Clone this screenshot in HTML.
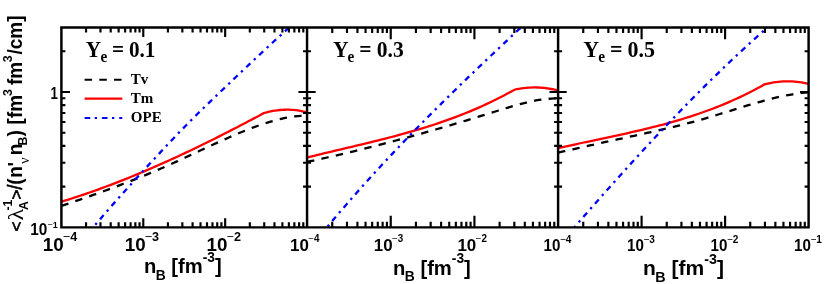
<!DOCTYPE html>
<html><head><meta charset="utf-8"><title>plot</title>
<style>html,body{margin:0;padding:0;background:#fff;}svg{display:block;will-change:transform;font-family:"Liberation Sans",sans-serif;}</style>
</head><body>
<svg width="830" height="284" viewBox="0 0 830 284">
<rect width="830" height="284" fill="#fff"/>
<g fill="none" stroke-width="2.3" stroke-linejoin="miter">
<path d="M61.40 205.98 L64.51 204.92 L67.62 203.85 L70.73 202.78 L73.84 201.71 L76.95 200.64 L80.06 199.56 L83.17 198.47 L86.28 197.38 L89.39 196.29 L92.49 195.19 L95.60 194.08 L98.71 192.97 L101.82 191.84 L104.93 190.71 L108.04 189.58 L111.15 188.43 L114.26 187.28 L117.37 186.11 L120.48 184.94 L123.59 183.75 L126.70 182.55 L129.81 181.35 L132.92 180.13 L136.03 178.90 L139.14 177.65 L142.25 176.40 L145.36 175.12 L148.47 173.84 L151.58 172.54 L154.68 171.23 L157.79 169.90 L160.90 168.55 L164.01 167.19 L167.12 165.81 L170.23 164.42 L173.34 163.02 L176.45 161.61 L179.56 160.18 L182.67 158.75 L185.78 157.31 L188.89 155.87 L192.00 154.42 L195.11 152.97 L198.22 151.52 L201.33 150.08 L204.44 148.63 L207.55 147.19 L210.66 145.75 L213.77 144.32 L216.87 142.89 L219.98 141.48 L223.09 140.07 L226.20 138.68 L229.31 137.30 L232.42 135.94 L235.53 134.60 L238.64 133.28 L241.75 131.98 L244.86 130.71 L247.97 129.47 L251.08 128.27 L254.19 127.10 L257.30 125.96 L260.41 124.87 L263.52 123.83 L266.63 122.83 L269.74 121.88 L272.85 120.99 L275.96 120.15 L279.06 119.37 L282.17 118.65 L285.28 117.99 L288.39 117.41 L291.50 116.89 L294.61 116.45 L297.72 116.08 L300.83 115.79 L303.94 115.59 L307.05 115.47" stroke="#000" stroke-dasharray="7.4 7.3"/>
<path d="M61.40 201.71 L63.96 200.92 L66.52 200.13 L69.08 199.33 L71.65 198.52 L74.21 197.69 L76.77 196.86 L79.33 196.01 L81.89 195.16 L84.45 194.29 L87.01 193.41 L89.58 192.53 L92.14 191.63 L94.70 190.72 L97.26 189.81 L99.82 188.88 L102.38 187.94 L104.94 187.00 L107.51 186.04 L110.07 185.07 L112.63 184.10 L115.19 183.11 L117.75 182.12 L120.31 181.12 L122.87 180.11 L125.43 179.09 L128.00 178.06 L130.56 177.02 L133.12 175.97 L135.68 174.92 L138.24 173.85 L140.80 172.78 L143.36 171.70 L145.93 170.61 L148.49 169.51 L151.05 168.41 L153.61 167.29 L156.17 166.17 L158.73 165.04 L161.29 163.91 L163.86 162.76 L166.42 161.61 L168.98 160.45 L171.54 159.28 L174.10 158.11 L176.66 156.93 L179.22 155.74 L181.79 154.55 L184.35 153.35 L186.91 152.14 L189.47 150.92 L192.03 149.70 L194.59 148.47 L197.15 147.24 L199.72 146.00 L202.28 144.75 L204.84 143.50 L207.40 142.24 L209.96 140.97 L212.52 139.70 L215.08 138.42 L217.64 137.14 L220.21 135.85 L222.77 134.56 L225.33 133.26 L227.89 131.95 L230.45 130.64 L233.01 129.33 L235.57 128.01 L238.14 126.68 L240.70 125.35 L243.26 124.02 L245.82 122.68 L248.38 121.33 L250.94 119.99 L253.50 118.63 L256.07 117.28 L258.63 115.91 L261.19 114.55 L263.75 113.18 L266.03 112.52 L268.31 111.94 L270.59 111.42 L272.87 110.97 L275.14 110.58 L277.42 110.27 L279.70 110.02 L281.98 109.84 L284.26 109.73 L286.54 109.68 L288.82 109.70 L291.10 109.80 L293.38 109.95 L295.66 110.18 L297.93 110.48 L300.21 110.84 L302.49 111.27 L304.77 111.77 L307.05 112.33" stroke="#ff0000"/>
<path d="M93.50 226.90 L96.82 223.00 L100.14 219.13 L103.46 215.28 L106.77 211.46 L110.09 207.65 L113.41 203.87 L116.73 200.11 L120.05 196.37 L123.37 192.65 L126.69 188.95 L130.01 185.28 L133.32 181.62 L136.64 177.98 L139.96 174.35 L143.28 170.74 L146.60 167.15 L149.92 163.57 L153.24 159.99 L156.55 156.43 L159.87 152.87 L163.19 149.32 L166.51 145.77 L169.83 142.24 L173.15 138.72 L176.47 135.23 L179.78 131.76 L183.10 128.33 L186.42 124.94 L189.74 121.58 L193.06 118.26 L196.38 114.98 L199.70 111.73 L203.02 108.51 L206.33 105.30 L209.65 102.11 L212.97 98.93 L216.29 95.75 L219.61 92.57 L222.93 89.39 L226.25 86.22 L229.56 83.05 L232.88 79.88 L236.20 76.72 L239.52 73.57 L242.84 70.42 L246.16 67.29 L249.48 64.16 L252.79 61.04 L256.11 57.93 L259.43 54.83 L262.75 51.74 L266.07 48.66 L269.39 45.59 L272.71 42.52 L276.03 39.47 L279.34 36.42 L282.66 33.38 L285.98 30.34 L289.30 27.32" stroke="#0000ff" stroke-dasharray="5.7 4.8 2.3 4.8" stroke-dashoffset="7.70"/>
<path d="M307.05 161.91 L310.23 161.23 L313.41 160.55 L316.58 159.86 L319.76 159.16 L322.94 158.46 L326.12 157.75 L329.29 157.03 L332.47 156.31 L335.65 155.58 L338.83 154.84 L342.01 154.09 L345.18 153.34 L348.36 152.59 L351.54 151.82 L354.72 151.05 L357.90 150.28 L361.07 149.49 L364.25 148.71 L367.43 147.91 L370.61 147.11 L373.78 146.30 L376.96 145.49 L380.14 144.67 L383.32 143.85 L386.50 143.02 L389.67 142.18 L392.85 141.34 L396.03 140.49 L399.21 139.64 L402.39 138.78 L405.56 137.92 L408.74 137.05 L411.92 136.17 L415.10 135.29 L418.27 134.41 L421.45 133.52 L424.63 132.62 L427.81 131.72 L430.99 130.81 L434.16 129.90 L437.34 128.99 L440.52 128.07 L443.70 127.14 L446.88 126.21 L450.05 125.28 L453.23 124.34 L456.41 123.40 L459.59 122.45 L462.76 121.49 L465.94 120.54 L469.12 119.57 L472.30 118.61 L475.48 117.64 L478.65 116.66 L481.83 115.69 L485.01 114.70 L488.19 113.72 L491.37 112.73 L494.54 111.73 L497.72 110.73 L500.90 109.74 L504.08 108.75 L507.25 107.78 L510.43 106.83 L513.61 105.89 L516.79 104.99 L519.97 104.12 L523.14 103.30 L526.32 102.51 L529.50 101.78 L532.68 101.11 L535.86 100.49 L539.03 99.95 L542.21 99.47 L545.39 99.07 L548.57 98.76 L551.74 98.53 L554.92 98.40 L558.10 98.36" stroke="#000" stroke-dasharray="7.4 7.3"/>
<path d="M307.05 157.52 L310.57 156.64 L314.08 155.77 L317.60 154.91 L321.11 154.05 L324.63 153.20 L328.15 152.36 L331.66 151.52 L335.18 150.69 L338.69 149.85 L342.21 149.02 L345.73 148.19 L349.24 147.36 L352.76 146.53 L356.28 145.69 L359.79 144.86 L363.31 144.01 L366.82 143.17 L370.34 142.31 L373.86 141.45 L377.37 140.58 L380.89 139.70 L384.40 138.81 L387.92 137.91 L391.44 137.00 L394.95 136.07 L398.47 135.13 L401.98 134.17 L405.50 133.20 L409.02 132.21 L412.53 131.21 L416.05 130.18 L419.57 129.13 L423.08 128.07 L426.60 126.98 L430.11 125.86 L433.63 124.73 L437.15 123.57 L440.66 122.38 L444.18 121.17 L447.69 119.93 L451.21 118.65 L454.73 117.35 L458.24 116.02 L461.76 114.66 L465.27 113.26 L468.79 111.83 L472.31 110.37 L475.82 108.87 L479.34 107.33 L482.86 105.76 L486.37 104.15 L489.89 102.49 L493.40 100.80 L496.92 99.07 L500.44 97.29 L503.95 95.47 L507.47 93.60 L510.98 91.69 L514.50 89.74 L516.79 89.24 L519.09 88.81 L521.38 88.44 L523.68 88.12 L525.97 87.87 L528.27 87.67 L530.56 87.54 L532.86 87.46 L535.15 87.45 L537.45 87.49 L539.74 87.59 L542.04 87.75 L544.33 87.98 L546.63 88.26 L548.92 88.60 L551.22 89.00 L553.51 89.46 L555.81 89.98 L558.10 90.56" stroke="#ff0000"/>
<path d="M326.90 227.28 L330.19 223.36 L333.48 219.47 L336.77 215.61 L340.06 211.77 L343.35 207.95 L346.64 204.16 L349.93 200.39 L353.22 196.65 L356.51 192.92 L359.80 189.22 L363.09 185.54 L366.38 181.89 L369.67 178.25 L372.96 174.64 L376.25 171.04 L379.54 167.47 L382.83 163.91 L386.12 160.38 L389.41 156.86 L392.70 153.37 L395.99 149.89 L399.28 146.43 L402.57 142.98 L405.86 139.56 L409.15 136.15 L412.44 132.75 L415.73 129.38 L419.02 126.01 L422.31 122.67 L425.59 119.33 L428.88 116.02 L432.17 112.71 L435.46 109.42 L438.75 106.15 L442.04 102.88 L445.33 99.63 L448.62 96.39 L451.91 93.17 L455.20 89.95 L458.49 86.75 L461.78 83.55 L465.07 80.37 L468.36 77.19 L471.65 74.03 L474.94 70.87 L478.23 67.73 L481.52 64.59 L484.81 61.46 L488.10 58.34 L491.39 55.22 L494.68 52.11 L497.97 49.01 L501.26 45.91 L504.55 42.82 L507.84 39.74 L511.13 36.66 L514.42 33.58 L517.71 30.51 L521.00 27.44" stroke="#0000ff" stroke-dasharray="5.7 4.8 2.3 4.8" stroke-dashoffset="9.40"/>
<path d="M558.10 152.69 L561.27 151.94 L564.44 151.21 L567.61 150.48 L570.78 149.75 L573.95 149.03 L577.13 148.31 L580.30 147.60 L583.47 146.89 L586.64 146.18 L589.81 145.47 L592.98 144.77 L596.15 144.07 L599.32 143.37 L602.49 142.68 L605.66 141.98 L608.83 141.29 L612.01 140.60 L615.18 139.91 L618.35 139.22 L621.52 138.52 L624.69 137.83 L627.86 137.14 L631.03 136.45 L634.20 135.76 L637.37 135.07 L640.54 134.37 L643.71 133.67 L646.88 132.98 L650.06 132.28 L653.23 131.57 L656.40 130.86 L659.57 130.15 L662.74 129.43 L665.91 128.69 L669.08 127.95 L672.25 127.20 L675.42 126.44 L678.59 125.66 L681.76 124.86 L684.94 124.05 L688.11 123.22 L691.28 122.37 L694.45 121.50 L697.62 120.61 L700.79 119.70 L703.96 118.78 L707.13 117.85 L710.30 116.90 L713.47 115.94 L716.64 114.98 L719.82 114.01 L722.99 113.03 L726.16 112.05 L729.33 111.06 L732.50 110.08 L735.67 109.10 L738.84 108.12 L742.01 107.15 L745.18 106.18 L748.35 105.22 L751.52 104.27 L754.69 103.34 L757.87 102.42 L761.04 101.52 L764.21 100.65 L767.38 99.80 L770.55 98.98 L773.72 98.19 L776.89 97.43 L780.06 96.71 L783.23 96.03 L786.40 95.39 L789.57 94.80 L792.75 94.26 L795.92 93.76 L799.09 93.32 L802.26 92.94 L805.43 92.61 L808.60 92.35" stroke="#000" stroke-dasharray="7.4 7.3"/>
<path d="M558.10 148.16 L561.60 147.36 L565.09 146.57 L568.59 145.79 L572.09 145.02 L575.58 144.26 L579.08 143.50 L582.58 142.75 L586.07 142.01 L589.57 141.27 L593.07 140.53 L596.56 139.79 L600.06 139.05 L603.56 138.31 L607.05 137.57 L610.55 136.82 L614.05 136.07 L617.54 135.32 L621.04 134.56 L624.54 133.79 L628.03 133.01 L631.53 132.22 L635.03 131.43 L638.52 130.62 L642.02 129.79 L645.52 128.96 L649.01 128.11 L652.51 127.24 L656.01 126.35 L659.50 125.45 L663.00 124.53 L666.49 123.58 L669.99 122.62 L673.49 121.63 L676.98 120.62 L680.48 119.58 L683.98 118.52 L687.47 117.43 L690.97 116.31 L694.47 115.17 L697.96 113.99 L701.46 112.78 L704.96 111.54 L708.45 110.27 L711.95 108.96 L715.45 107.62 L718.94 106.24 L722.44 104.82 L725.94 103.36 L729.43 101.86 L732.93 100.32 L736.43 98.74 L739.92 97.12 L743.42 95.45 L746.92 93.74 L750.41 91.97 L753.91 90.17 L757.41 88.31 L760.90 86.40 L764.40 84.45 L766.73 83.84 L769.05 83.31 L771.38 82.83 L773.71 82.42 L776.03 82.08 L778.36 81.79 L780.68 81.58 L783.01 81.42 L785.34 81.33 L787.66 81.30 L789.99 81.34 L792.32 81.44 L794.64 81.60 L796.97 81.83 L799.29 82.12 L801.62 82.47 L803.95 82.89 L806.27 83.37 L808.60 83.92" stroke="#ff0000"/>
<path d="M574.30 227.39 L577.57 223.62 L580.85 219.86 L584.12 216.10 L587.40 212.36 L590.67 208.62 L593.95 204.90 L597.22 201.18 L600.50 197.48 L603.77 193.78 L607.05 190.10 L610.32 186.42 L613.59 182.76 L616.87 179.11 L620.14 175.47 L623.42 171.84 L626.69 168.23 L629.97 164.62 L633.24 161.03 L636.52 157.45 L639.79 153.89 L643.07 150.34 L646.34 146.80 L649.62 143.27 L652.89 139.76 L656.16 136.26 L659.44 132.78 L662.71 129.31 L665.99 125.86 L669.26 122.42 L672.54 119.00 L675.81 115.59 L679.09 112.20 L682.36 108.83 L685.64 105.47 L688.91 102.12 L692.18 98.80 L695.46 95.49 L698.73 92.20 L702.01 88.92 L705.28 85.67 L708.56 82.43 L711.83 79.21 L715.11 76.01 L718.38 72.82 L721.66 69.66 L724.93 66.51 L728.21 63.39 L731.48 60.28 L734.75 57.19 L738.03 54.13 L741.30 51.08 L744.58 48.06 L747.85 45.05 L751.13 42.07 L754.40 39.10 L757.68 36.16 L760.95 33.24 L764.23 30.35 L767.50 27.47" stroke="#0000ff" stroke-dasharray="5.7 4.8 2.3 4.8" stroke-dashoffset="3.77"/>
</g>
<g stroke="#000" stroke-width="2.45" fill="none" stroke-linecap="butt">
<path d="M61.40 27.45 H808.60 V227.35 H61.40 Z"/>
<path d="M307.05 27.45 V227.35 M558.10 27.45 V227.35"/>
</g>
<path d="M86.05 27.45 v5.00 M86.05 227.35 v-5.00 M100.47 27.45 v5.00 M100.47 227.35 v-5.00 M110.70 27.45 v5.00 M110.70 227.35 v-5.00 M118.63 27.45 v5.00 M118.63 227.35 v-5.00 M125.12 27.45 v5.00 M125.12 227.35 v-5.00 M130.60 27.45 v5.00 M130.60 227.35 v-5.00 M135.35 27.45 v5.00 M135.35 227.35 v-5.00 M139.54 27.45 v5.00 M139.54 227.35 v-5.00 M143.28 27.45 v9.60 M143.28 227.35 v-9.00 M167.93 27.45 v5.00 M167.93 227.35 v-5.00 M182.35 27.45 v5.00 M182.35 227.35 v-5.00 M192.58 27.45 v5.00 M192.58 227.35 v-5.00 M200.52 27.45 v5.00 M200.52 227.35 v-5.00 M207.00 27.45 v5.00 M207.00 227.35 v-5.00 M212.48 27.45 v5.00 M212.48 227.35 v-5.00 M217.23 27.45 v5.00 M217.23 227.35 v-5.00 M221.42 27.45 v5.00 M221.42 227.35 v-5.00 M225.17 27.45 v9.60 M225.17 227.35 v-9.00 M249.82 27.45 v5.00 M249.82 227.35 v-5.00 M264.23 27.45 v5.00 M264.23 227.35 v-5.00 M274.47 27.45 v5.00 M274.47 227.35 v-5.00 M282.40 27.45 v5.00 M282.40 227.35 v-5.00 M288.88 27.45 v5.00 M288.88 227.35 v-5.00 M294.37 27.45 v5.00 M294.37 227.35 v-5.00 M299.11 27.45 v5.00 M299.11 227.35 v-5.00 M303.30 27.45 v5.00 M303.30 227.35 v-5.00 M61.40 186.61 h4.00 M307.05 186.61 h-4.00 M61.40 162.78 h4.00 M307.05 162.78 h-4.00 M61.40 145.87 h4.00 M307.05 145.87 h-4.00 M61.40 132.76 h4.00 M307.05 132.76 h-4.00 M61.40 122.04 h4.00 M307.05 122.04 h-4.00 M61.40 112.98 h4.00 M307.05 112.98 h-4.00 M61.40 105.13 h4.00 M307.05 105.13 h-4.00 M61.40 98.21 h4.00 M307.05 98.21 h-4.00 M61.40 92.02 h8.60 M307.05 92.02 h-8.60 M61.40 51.28 h4.00 M307.05 51.28 h-4.00 M332.24 27.45 v5.60 M332.24 227.35 v-5.60 M346.98 27.45 v5.60 M346.98 227.35 v-5.60 M357.43 27.45 v5.60 M357.43 227.35 v-5.60 M365.54 27.45 v5.60 M365.54 227.35 v-5.60 M372.17 27.45 v5.60 M372.17 227.35 v-5.60 M377.77 27.45 v5.60 M377.77 227.35 v-5.60 M382.62 27.45 v5.60 M382.62 227.35 v-5.60 M386.90 27.45 v5.60 M386.90 227.35 v-5.60 M390.73 27.45 v11.70 M390.73 227.35 v-11.70 M415.92 27.45 v5.60 M415.92 227.35 v-5.60 M430.66 27.45 v5.60 M430.66 227.35 v-5.60 M441.12 27.45 v5.60 M441.12 227.35 v-5.60 M449.23 27.45 v5.60 M449.23 227.35 v-5.60 M455.85 27.45 v5.60 M455.85 227.35 v-5.60 M461.45 27.45 v5.60 M461.45 227.35 v-5.60 M466.31 27.45 v5.60 M466.31 227.35 v-5.60 M470.59 27.45 v5.60 M470.59 227.35 v-5.60 M474.42 27.45 v11.70 M474.42 227.35 v-11.70 M499.61 27.45 v5.60 M499.61 227.35 v-5.60 M514.34 27.45 v5.60 M514.34 227.35 v-5.60 M524.80 27.45 v5.60 M524.80 227.35 v-5.60 M532.91 27.45 v5.60 M532.91 227.35 v-5.60 M539.53 27.45 v5.60 M539.53 227.35 v-5.60 M545.14 27.45 v5.60 M545.14 227.35 v-5.60 M549.99 27.45 v5.60 M549.99 227.35 v-5.60 M554.27 27.45 v5.60 M554.27 227.35 v-5.60 M307.05 186.61 h4.00 M558.10 186.61 h-4.00 M307.05 162.78 h4.00 M558.10 162.78 h-4.00 M307.05 145.87 h4.00 M558.10 145.87 h-4.00 M307.05 132.76 h4.00 M558.10 132.76 h-4.00 M307.05 122.04 h4.00 M558.10 122.04 h-4.00 M307.05 112.98 h4.00 M558.10 112.98 h-4.00 M307.05 105.13 h4.00 M558.10 105.13 h-4.00 M307.05 98.21 h4.00 M558.10 98.21 h-4.00 M307.05 92.02 h8.60 M558.10 92.02 h-8.60 M307.05 51.28 h4.00 M558.10 51.28 h-4.00 M583.24 27.45 v5.60 M583.24 227.35 v-5.60 M597.94 27.45 v5.60 M597.94 227.35 v-5.60 M608.37 27.45 v5.60 M608.37 227.35 v-5.60 M616.46 27.45 v5.60 M616.46 227.35 v-5.60 M623.08 27.45 v5.60 M623.08 227.35 v-5.60 M628.67 27.45 v5.60 M628.67 227.35 v-5.60 M633.51 27.45 v5.60 M633.51 227.35 v-5.60 M637.78 27.45 v5.60 M637.78 227.35 v-5.60 M641.60 27.45 v11.70 M641.60 227.35 v-11.70 M666.74 27.45 v5.60 M666.74 227.35 v-5.60 M681.44 27.45 v5.60 M681.44 227.35 v-5.60 M691.87 27.45 v5.60 M691.87 227.35 v-5.60 M699.96 27.45 v5.60 M699.96 227.35 v-5.60 M706.58 27.45 v5.60 M706.58 227.35 v-5.60 M712.17 27.45 v5.60 M712.17 227.35 v-5.60 M717.01 27.45 v5.60 M717.01 227.35 v-5.60 M721.28 27.45 v5.60 M721.28 227.35 v-5.60 M725.10 27.45 v11.70 M725.10 227.35 v-11.70 M750.24 27.45 v5.60 M750.24 227.35 v-5.60 M764.94 27.45 v5.60 M764.94 227.35 v-5.60 M775.37 27.45 v5.60 M775.37 227.35 v-5.60 M783.46 27.45 v5.60 M783.46 227.35 v-5.60 M790.08 27.45 v5.60 M790.08 227.35 v-5.60 M795.67 27.45 v5.60 M795.67 227.35 v-5.60 M800.51 27.45 v5.60 M800.51 227.35 v-5.60 M804.78 27.45 v5.60 M804.78 227.35 v-5.60 M558.10 186.61 h4.00 M808.60 186.61 h-4.00 M558.10 162.78 h4.00 M808.60 162.78 h-4.00 M558.10 145.87 h4.00 M808.60 145.87 h-4.00 M558.10 132.76 h4.00 M808.60 132.76 h-4.00 M558.10 122.04 h4.00 M808.60 122.04 h-4.00 M558.10 112.98 h4.00 M808.60 112.98 h-4.00 M558.10 105.13 h4.00 M808.60 105.13 h-4.00 M558.10 98.21 h4.00 M808.60 98.21 h-4.00 M558.10 92.02 h8.60 M808.60 92.02 h-8.60 M558.10 51.28 h4.00 M808.60 51.28 h-4.00" stroke="#000" stroke-width="2.15" fill="none"/>
<g fill="none" stroke-width="2.1">
<path d="M84.6 79.8 H121.9" stroke="#000" stroke-dasharray="7.5 7.2"/>
<path d="M84.6 98.6 H122.3" stroke="#ff0000"/>
<path d="M84.6 118.0 H122.3" stroke="#0000ff" stroke-dasharray="5.6 4.5 2.3 4.9"/>
</g>
<g font-family="Liberation Serif, serif" font-weight="bold" font-size="15px" fill="#000">
<text x="130.8" y="83.8">Tv</text><text x="130.8" y="102.7">Tm</text><text x="130.8" y="121.7">OPE</text>
</g>
<g font-family="Liberation Serif, serif" font-weight="bold" fill="#000">
<text transform="translate(85.80 57.10) scale(0.945 1)" font-size="22.43px">Y</text><text transform="translate(100.40 61.80) scale(0.945 1)" font-size="16.19px">e</text><text transform="translate(111.90 57.10) scale(0.945 1)" font-size="22.43px">=</text><text transform="translate(128.90 57.10) scale(0.945 1)" font-size="22.43px">0.1</text>
<text transform="translate(332.90 57.10) scale(0.945 1)" font-size="22.86px">Y</text><text transform="translate(347.60 61.80) scale(0.945 1)" font-size="16.19px">e</text><text transform="translate(359.20 57.10) scale(0.945 1)" font-size="22.86px">=</text><text transform="translate(376.70 57.10) scale(0.945 1)" font-size="22.86px">0.3</text>
<text transform="translate(583.30 57.10) scale(0.945 1)" font-size="23.28px">Y</text><text transform="translate(598.20 61.80) scale(0.945 1)" font-size="16.19px">e</text><text transform="translate(610.00 57.10) scale(0.945 1)" font-size="23.28px">=</text><text transform="translate(627.60 57.10) scale(0.945 1)" font-size="23.28px">0.5</text>
</g>
<g font-family="Liberation Sans, sans-serif" font-weight="bold" fill="#000">
<text transform="translate(30.20 234.60) scale(0.970 1)" font-size="15.8px">10</text><text transform="translate(47.44 228.40) scale(0.970 1)" font-size="9.3px"><tspan font-weight="normal">−</tspan>1</text>
<text transform="translate(50.4 98.8) scale(0.84 1)" font-size="15.8px">1</text>
<text transform="translate(42.80 250.60) scale(1.000 1)" font-size="18.8px">10</text><text transform="translate(62.81 241.20) scale(1.000 1)" font-size="12.6px"><tspan font-weight="normal">−</tspan>4</text>
<text transform="translate(124.68 250.60) scale(1.000 1)" font-size="18.8px">10</text><text transform="translate(144.69 241.20) scale(1.000 1)" font-size="12.6px"><tspan font-weight="normal">−</tspan>3</text>
<text transform="translate(206.57 250.60) scale(1.000 1)" font-size="18.8px">10</text><text transform="translate(226.57 241.20) scale(1.000 1)" font-size="12.6px"><tspan font-weight="normal">−</tspan>2</text>
<text transform="translate(290.05 250.60) scale(0.985 1)" font-size="17.2px">10</text><text transform="translate(308.29 242.10) scale(0.985 1)" font-size="10.0px"><tspan font-weight="normal">−</tspan>4</text>
<text transform="translate(373.73 250.60) scale(0.985 1)" font-size="17.2px">10</text><text transform="translate(391.97 242.10) scale(0.985 1)" font-size="10.0px"><tspan font-weight="normal">−</tspan>3</text>
<text transform="translate(457.42 250.60) scale(0.985 1)" font-size="17.2px">10</text><text transform="translate(475.66 242.10) scale(0.985 1)" font-size="10.0px"><tspan font-weight="normal">−</tspan>2</text>
<text transform="translate(543.50 250.60) scale(0.930 1)" font-size="16.3px">10</text><text transform="translate(559.96 242.70) scale(0.930 1)" font-size="10.8px"><tspan font-weight="normal">−</tspan>4</text>
<text transform="translate(627.00 250.60) scale(0.930 1)" font-size="16.3px">10</text><text transform="translate(643.46 242.70) scale(0.930 1)" font-size="10.8px"><tspan font-weight="normal">−</tspan>3</text>
<text transform="translate(710.50 250.60) scale(0.930 1)" font-size="16.3px">10</text><text transform="translate(726.96 242.70) scale(0.930 1)" font-size="10.8px"><tspan font-weight="normal">−</tspan>2</text>
<text transform="translate(794.00 250.60) scale(0.930 1)" font-size="16.3px">10</text><text transform="translate(810.46 242.70) scale(0.930 1)" font-size="10.8px"><tspan font-weight="normal">−</tspan>1</text>
</g>
<g font-family="Liberation Sans, sans-serif" font-weight="bold" fill="#000">
<text x="144.0" y="273.4" font-size="20.2px">n<tspan font-size="13.8px" dx="-0.6" dy="6.3">B</tspan><tspan dy="-6.3"> [fm</tspan><tspan font-size="13.8px" dy="-11.1">-3</tspan><tspan dy="11.1">]</tspan></text>
<text x="393.1" y="274.5" font-size="20.2px">n<tspan font-size="13.8px" dx="-0.6" dy="6.3">B</tspan><tspan dy="-6.3"> [fm</tspan><tspan font-size="13.8px" dy="-11.1">-3</tspan><tspan dy="11.1">]</tspan></text>
<text x="643.1" y="275.3" font-size="21.0px">n<tspan font-size="14.3px" dx="-0.6" dy="6.5">B</tspan><tspan dy="-6.5"> [fm</tspan><tspan font-size="14.3px" dy="-11.6">-3</tspan><tspan dy="11.6">]</tspan></text>
</g>
<g transform="translate(22.60 231.00) rotate(-90)" font-family="Liberation Sans, sans-serif" font-weight="bold" fill="#000">
<text transform="translate(-0.60 -0.50) scale(1.000 1)" font-size="17.2px" font-weight="normal" stroke="#000" stroke-width="0.6">&lt;</text>
<text transform="translate(10.40 0.00) scale(1.200 1)" font-size="20px" font-family="Liberation Serif, serif" font-weight="normal">λ</text>
<text transform="translate(20.40 -10.20) scale(0.985 1)" font-size="12.5px" >-1</text>
<text transform="translate(21.00 5.20) scale(0.985 1)" font-size="12.5px" >A</text>
<text transform="translate(31.60 -0.50) scale(1.000 1)" font-size="17.2px" font-weight="normal" stroke="#000" stroke-width="0.6">&gt;</text>
<text transform="translate(41.20 -0.40) scale(0.985 1)" font-size="19.3px" font-weight="normal" stroke="#000" stroke-width="0.5">/</text>
<text transform="translate(46.20 -0.80) scale(0.985 1)" font-size="19.3px" >(</text>
<text transform="translate(53.35 -0.80) scale(0.985 1)" font-size="19.3px" >n</text>
<text transform="translate(64.60 -0.80) scale(0.985 1)" font-size="19.3px" >'</text>
<text transform="translate(67.20 6.80) scale(0.985 1)" font-size="14px" font-family="Liberation Serif, serif" font-weight="normal">ν</text>
<text transform="translate(75.80 -0.90) scale(0.985 1)" font-size="19.3px" >n</text>
<text transform="translate(85.60 4.60) scale(0.985 1)" font-size="12.5px" >B</text>
<text transform="translate(94.60 -1.00) scale(0.985 1)" font-size="19.3px" >)</text>
<text transform="translate(106.60 -1.00) scale(0.985 1)" font-size="19.3px" >[fm</text>
<text transform="translate(135.00 -11.00) scale(0.985 1)" font-size="12.5px" >3</text>
<text transform="translate(146.00 -1.00) scale(0.985 1)" font-size="19.3px" >fm</text>
<text transform="translate(168.80 -11.00) scale(0.985 1)" font-size="12.5px" >3</text>
<text transform="translate(176.40 -1.00) scale(0.985 1)" font-size="19.3px" >/cm]</text>
</g>
</svg>
</body></html>
